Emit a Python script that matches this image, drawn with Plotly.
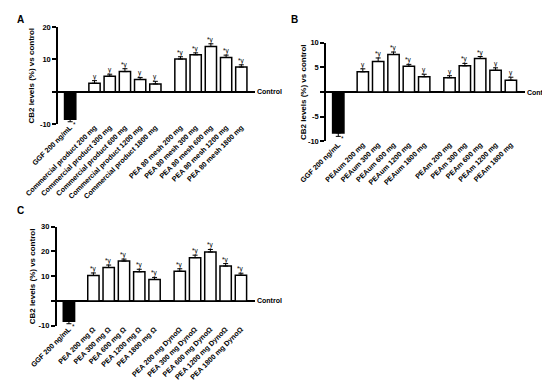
import plotly.graph_objects as go

# ---------------- data ----------------
ctrl_label = "GGF 200 ng/mL"

a_g1 = ["Commercial product 200 mg", "Commercial product 300 mg", "Commercial product 600 mg",
        "Commercial product 1200 mg", "Commercial product 1800 mg"]
a_g2 = ["PEA 80 mesh 200 mg", "PEA 80 mesh 300 mg", "PEA 80 mesh 600 mg",
        "PEA 80 mesh 1200 mg", "PEA 80 mesh 1800 mg"]
a_ggf = -8.5
a_ggf_err = 0.8
a_v1 = [2.6, 4.8, 6.2, 3.8, 2.4]
a_e1 = [0.8, 0.6, 0.9, 0.6, 0.8]
a_v2 = [10.1, 11.4, 14.0, 10.6, 7.6]
a_e2 = [0.7, 0.6, 0.8, 0.7, 0.7]
a_s1 = ["y", "y", "*y", "y", "y"]
a_s2 = ["*y", "*y", "*y", "*y", "*y"]

b_g1 = ["PEAum 200 mg", "PEAum 300 mg", "PEAum 600 mg", "PEAum 1200 mg", "PEAum 1800 mg"]
b_g2 = ["PEAm 200 mg", "PEAm 300 mg", "PEAm 600 mg", "PEAm 1200 mg", "PEAm 1800 mg"]
b_ggf = -8.3
b_ggf_err = 0.7
b_v1 = [4.1, 6.2, 7.6, 5.2, 3.1]
b_e1 = [0.6, 0.7, 0.5, 0.4, 0.5]
b_v2 = [2.9, 5.3, 6.8, 4.4, 2.4]
b_e2 = [0.4, 0.5, 0.4, 0.5, 0.6]
b_s1 = ["y", "*y", "*y", "*y", "y"]
b_s2 = ["y", "*y", "*y", "y", "y"]

c_g1 = ["PEA 200 mg Ω", "PEA 300 mg Ω", "PEA 600 mg Ω", "PEA 1200 mg Ω", "PEA 1800 mg Ω"]
c_g2 = ["PEA 200 mg DynoΩ", "PEA 300 mg DynoΩ", "PEA 600 mg DynoΩ",
        "PEA 1200 mg DynoΩ", "PEA 1800 mg DynoΩ"]
c_ggf = -8.2
c_ggf_err = 1.0
c_v1 = [10.3, 13.5, 16.1, 11.8, 8.7]
c_e1 = [1.0, 1.0, 0.8, 1.0, 0.8]
c_v2 = [12.0, 17.5, 19.8, 14.1, 10.4]
c_e2 = [1.0, 1.0, 1.0, 1.0, 0.8]
c_s1 = ["*y", "*y", "*y", "*y", "*y"]
c_s2 = ["*y", "*y", "*y", "*y", "*y"]

a_ticks = [-10, 0, 10, 20]
b_ticks = [-10, -5, 0, 5, 10]
c_ticks = [-10, 0, 10, 20, 30]

# ---------------- layout helpers ----------------
FONT = "Arial, Liberation Sans, sans-serif"
W, H = 550, 380


def px_x(p):
    return p / W


def px_y(p):
    return 1 - p / H


panels = [
    dict(g1=a_g1, g2=a_g2, ggf=a_ggf, ggf_err=a_ggf_err, v1=a_v1, e1=a_e1, v2=a_v2, e2=a_e2,
         s1=a_s1, s2=a_s2, ticks=a_ticks, xd=(50, 247), yd=(19, 116), letter="A",
         lpos=(7, 12), tx=23),
    dict(g1=b_g1, g2=b_g2, ggf=b_ggf, ggf_err=b_ggf_err, v1=b_v1, e1=b_e1, v2=b_v2, e2=b_e2,
         s1=b_s1, s2=b_s2, ticks=b_ticks, xd=(318, 516.7), yd=(34.7, 133.3), letter="B",
         lpos=(281, 12), tx=295),
    dict(g1=c_g1, g2=c_g2, ggf=c_ggf, ggf_err=c_ggf_err, v1=c_v1, e1=c_e1, v2=c_v2, e2=c_e2,
         s1=c_s1, s2=c_s2, ticks=c_ticks, xd=(48.7, 246.7), yd=(218.7, 317.7), letter="C",
         lpos=(7, 202), tx=24),
]

fig = go.Figure()
annotations = []
layout = {}

for i, p in enumerate(panels):
    n = "" if i == 0 else str(i + 1)
    xa, ya = "x" + n, "y" + n
    xpos0 = [0]
    xpos1 = [1.6 + k for k in range(len(p["g1"]))]
    xpos2 = [7.25 + k for k in range(len(p["g2"]))]

    # control (GGF) bar - black, error downward
    fig.add_trace(go.Bar(
        x=xpos0, y=[p["ggf"]], width=0.74, xaxis=xa, yaxis=ya,
        marker=dict(color="black", line=dict(color="black", width=1.5)),
        error_y=dict(type="data", symmetric=False, array=[0], arrayminus=[p["ggf_err"]],
                     color="black", thickness=1, width=2.5),
        cliponaxis=False, showlegend=False, hoverinfo="skip"))
    # treatment bars - white
    fig.add_trace(go.Bar(
        x=xpos1 + xpos2, y=p["v1"] + p["v2"], width=0.74, xaxis=xa, yaxis=ya,
        marker=dict(color="white", line=dict(color="black", width=1.5)),
        error_y=dict(type="data", symmetric=False, array=p["e1"] + p["e2"],
                     arrayminus=[0] * (len(p["v1"]) + len(p["v2"])),
                     color="black", thickness=1, width=2.5),
        cliponaxis=False, showlegend=False, hoverinfo="skip"))

    ymin, ymax = p["ticks"][0], p["ticks"][-1]
    layout["xaxis" + n] = dict(
        domain=[px_x(p["xd"][0]), px_x(p["xd"][1])], anchor=ya, range=[-0.8, 12.15],
        automargin=False, ticklabelstandoff=-3,
        showline=False, showgrid=False, zeroline=False, ticks="",
        tickvals=xpos0 + xpos1 + xpos2, ticktext=[ctrl_label] + p["g1"] + p["g2"],
        tickangle=-45, tickfont=dict(family=FONT, size=7.2, color="black", weight="bold"),
        fixedrange=True)
    layout["yaxis" + n] = dict(
        domain=[px_y(p["yd"][1]), px_y(p["yd"][0])], anchor=xa, range=[ymin, ymax],
        automargin=False,
        showline=True, linecolor="black", linewidth=1.5, showgrid=False,
        zeroline=True, zerolinecolor="black", zerolinewidth=1.5,
        ticks="outside", ticklen=4, tickwidth=1.5, tickcolor="black",
        tickvals=p["ticks"], ticktext=["" if t == 0 else str(t) for t in p["ticks"]],
        tickfont=dict(family=FONT, size=7.5, color="black", weight="bold"),
        fixedrange=True)

    # significance labels
    for xv, v, e, s in zip(xpos1 + xpos2, p["v1"] + p["v2"], p["e1"] + p["e2"], p["s1"] + p["s2"]):
        annotations.append(dict(x=xv, y=v + e, xref=xa, yref=ya, text=s, showarrow=False,
                                yanchor="bottom", yshift=-2,
                                font=dict(family=FONT, size=6.5, color="black")))
    annotations.append(dict(x=0.3, y=p["ggf"] - p["ggf_err"], xref=xa, yref=ya, text="*",
                            showarrow=False, yanchor="top", yshift=3,
                            font=dict(family=FONT, size=6.5, color="black")))
    # Control label
    annotations.append(dict(x=px_x(p["xd"][1] + 1), y=0, xref="paper", yref=ya,
                            text="Control", showarrow=False, xanchor="left", yanchor="middle",
                            xshift=-1,
                            font=dict(family=FONT, size=7, color="black", weight="bold")))
    # y title
    annotations.append(dict(x=px_x(p["tx"]), y=px_y((p["yd"][0] + p["yd"][1]) / 2),
                            xref="paper", yref="paper", text="CB2 levels (%) vs control",
                            textangle=-90, showarrow=False, xanchor="center", yanchor="middle",
                            font=dict(family=FONT, size=8, color="black", weight="bold")))
    # panel letter
    annotations.append(dict(x=px_x(p["lpos"][0]), y=px_y(p["lpos"][1]), xref="paper",
                            yref="paper", text=p["letter"], showarrow=False,
                            xanchor="left", yanchor="middle",
                            font=dict(family=FONT, size=10, color="black", weight="bold")))

fig.update_layout(
    width=W, height=H, margin=dict(l=0, r=0, t=0, b=0, autoexpand=False),
    paper_bgcolor="white", plot_bgcolor="white", barmode="overlay",
    annotations=annotations, **layout)

fig.write_html("out.html")
